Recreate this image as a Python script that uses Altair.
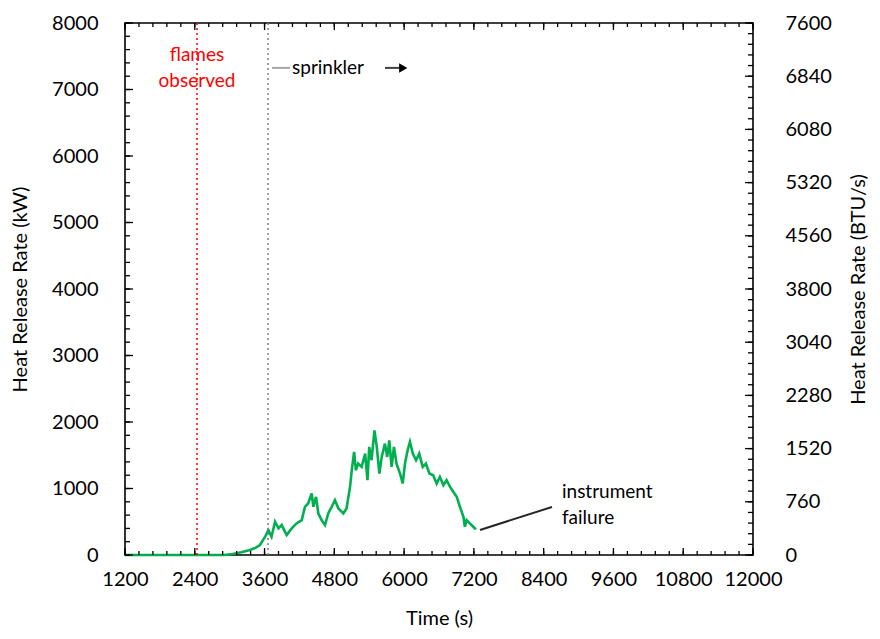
import altair as alt
import pandas as pd

# ---- data ----
time_s = [1200, 2900, 3050, 3200, 3350, 3450, 3520, 3610, 3665, 3720, 3780, 3840, 3895,
          3980, 4067, 4150, 4240, 4295, 4350, 4410, 4440, 4485, 4525, 4580, 4640, 4695,
          4755, 4810, 4870, 4955, 5010, 5070, 5100, 5140, 5170, 5210, 5270, 5330, 5370,
          5400, 5440, 5490, 5530, 5575, 5615, 5670, 5710, 5745, 5785, 5825, 5870, 5930,
          5975, 6015, 6060, 6100, 6150, 6205, 6260, 6320, 6375, 6435, 6500, 6560, 6615,
          6675, 6730, 6790, 6845, 6905, 6960, 7020, 7045, 7075, 7130, 7190, 7235]
hrr_kw = [0, 0, 15, 40, 75, 110, 150, 275, 375, 275, 500, 400, 450,
          300, 400, 475, 525, 725, 775, 925, 725, 875, 625, 525, 450, 625,
          725, 825, 700, 625, 700, 1025, 1275, 1550, 1275, 1375, 1325, 1525, 1125,
          1625, 1425, 1875, 1625, 1225, 1475, 1675, 1475, 1725, 1325, 1625, 1375, 1225,
          1075, 1375, 1575, 1700, 1525, 1425, 1525, 1325, 1375, 1225, 1200, 1075, 1175,
          1050, 1125, 1025, 950, 875, 725, 575, 425, 525, 475, 425, 385]

x_major = list(range(1200, 12001, 1200))
x_minor = list(range(1200, 12001, 240))
y_major = list(range(0, 8001, 1000))
y_minor = list(range(0, 8001, 200))
btu_major = list(range(0, 7601, 760))
btu_minor = list(range(0, 7601, 152))

flames_time = [2438]
sprinkler_time = [3660]

W, H = 628, 532
FONT = "Lato"

xs = alt.Scale(domain=[1200, 12000], nice=False, zero=False)
ys = alt.Scale(domain=[0, 8000], nice=False, zero=True)
bs = alt.Scale(domain=[0, 7600], nice=False, zero=True)

X = lambda: alt.X("t:Q", scale=xs)
Y = lambda: alt.Y("v:Q", scale=ys)

curve = pd.DataFrame({"t": time_s, "v": hrr_kw})

# main line with axes
line = alt.Chart(curve).mark_line(color="#00B050", strokeWidth=2.6).encode(
    x=alt.X("t:Q", scale=xs, title="Time (s)",
            axis=alt.Axis(values=x_major, format="d", ticks=False, tickSize=0, domain=False,
                          grid=False, labelFontSize=20, labelFont=FONT, labelColor="#000",
                          labelPadding=14, titleFontSize=20, titleFont=FONT,
                          titleFontWeight="normal", titleColor="#000", titlePadding=19,
                          labelFlush=False, labelOverlap=False)),
    y=alt.Y("v:Q", scale=ys, title="Heat Release Rate (kW)",
            axis=alt.Axis(values=y_major, format="d", ticks=False, tickSize=0, domain=False,
                          grid=False, labelFontSize=20, labelFont=FONT, labelColor="#000",
                          labelPadding=27, titleFontSize=20, titleFont=FONT,
                          titleFontWeight="normal", titleColor="#000", titlePadding=21,
                          labelFlush=False)),
)

# tick marks (inward)
def xticks(vals, top, length, sw):
    df = pd.DataFrame({"t": vals})
    if top:
        return alt.Chart(df).mark_rule(color="#000", strokeWidth=sw).encode(
            x=X(), y=alt.value(0), y2=alt.value(length))
    return alt.Chart(df).mark_rule(color="#000", strokeWidth=sw).encode(
        x=X(), y=alt.value(H), y2=alt.value(H - length))

def yticks(vals, length, sw):
    df = pd.DataFrame({"v": vals})
    return alt.Chart(df).mark_rule(color="#000", strokeWidth=sw).encode(
        y=Y(), x=alt.value(0), x2=alt.value(length))

tick_layers = [
    xticks(x_minor, False, 4, 1.3), xticks(x_major, False, 7, 1.3),
    xticks(x_minor, True, 4, 1.3), xticks(x_major, True, 7, 1.3),
    yticks(y_minor, 5, 1.3), yticks(y_major, 8, 1.3),
]

# event lines
flames_line = alt.Chart(pd.DataFrame({"t": flames_time})).mark_rule(
    color="#FF0000", strokeWidth=1.5, strokeDash=[2, 3]).encode(
    x=X(), y=alt.value(0), y2=alt.value(H))
spr_line = alt.Chart(pd.DataFrame({"t": sprinkler_time})).mark_rule(
    color="#7F7F7F", strokeWidth=1.5, strokeDash=[2, 3]).encode(
    x=X(), y=alt.value(0), y2=alt.value(H))

# annotations
flames_txt = alt.Chart(pd.DataFrame({"t": [2438, 2438], "v": [7520, 7130],
                                     "s": ["flames", "observed"]})).mark_text(
    font=FONT, fontSize=19, color="#FF0000", align="center", baseline="middle").encode(
    x=X(), y=Y(), text="s:N")

spr_txt = alt.Chart(pd.DataFrame({"t": [4072], "v": [7325], "s": ["sprinkler"]})).mark_text(
    font=FONT, fontSize=19, color="#000", align="left", baseline="middle").encode(
    x=X(), y=Y(), text="s:N")

inst_txt = alt.Chart(pd.DataFrame({"t": [8715, 8715], "v": [948, 556],
                                   "s": ["instrument", "failure"]})).mark_text(
    font=FONT, fontSize=19, color="#000", align="left", baseline="middle").encode(
    x=X(), y=Y(), text="s:N")

def leader(t1, t2, v1, v2, col):
    return alt.Chart(pd.DataFrame({"t": [t1], "t2": [t2], "v": [v1], "v2": [v2]})).mark_rule(
        strokeWidth=2, color=col).encode(x=X(), x2="t2:Q", y=Y(), y2="v2:Q")

leader_layers = [
    leader(3728, 4038, 7325, 7325, "#A6A6A6"),
    leader(5671, 5929, 7325, 7325, "#404040"),
    leader(7305, 8543, 376, 722, "#262626"),
]

arrow = alt.Chart(pd.DataFrame({"t": [5985], "v": [7325]})).mark_point(
    shape="triangle-right", filled=True, color="#000", size=90, opacity=1).encode(
    x=X(), y=Y())

left = alt.layer(line, *tick_layers, flames_line, spr_line, *leader_layers, arrow,
                 flames_txt, spr_txt, inst_txt)

# right axis (BTU/s) with its own ticks
right_axis = alt.Axis(orient="right", values=btu_major, format="d", ticks=False, tickSize=0,
                      domain=False, grid=False, labelFontSize=20, labelFont=FONT,
                      labelColor="#000", labelPadding=32, titleFontSize=20, titleFont=FONT,
                      titleFontWeight="normal", titleColor="#000", titlePadding=37,
                      titleAngle=270, titleBaseline="bottom", labelFlush=False)

right_minor = alt.Chart(pd.DataFrame({"v": btu_minor})).mark_rule(
    color="#000", strokeWidth=1.3).encode(
    y=alt.Y("v:Q", scale=bs, axis=right_axis, title="Heat Release Rate (BTU/s)"),
    x=alt.value(W - 5), x2=alt.value(W))
right_major = alt.Chart(pd.DataFrame({"v": btu_major})).mark_rule(
    color="#000", strokeWidth=1.3).encode(
    y=alt.Y("v:Q", scale=bs),
    x=alt.value(W - 8), x2=alt.value(W))
right = alt.layer(right_minor, right_major)

chart = alt.layer(left, right).resolve_scale(y="independent").properties(
    width=W, height=H,
    autosize=alt.AutoSizeParams(type="none"),
    padding={"left": 117, "top": 15, "right": 119, "bottom": 76},
    background="white",
).configure_view(stroke="#000", strokeWidth=1.6)

chart.save("out.html", embed_options={"renderer": "svg", "actions": False})
